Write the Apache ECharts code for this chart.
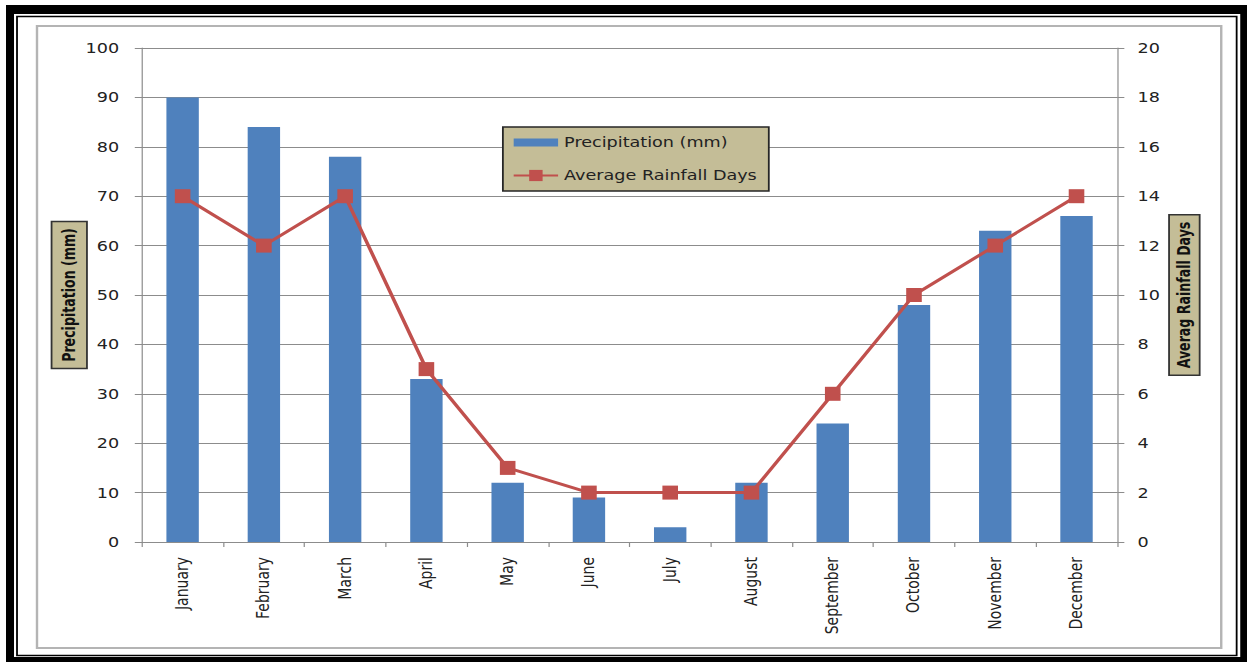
<!DOCTYPE html>
<html>
<head>
<meta charset="utf-8">
<title>Precipitation and Average Rainfall Days</title>
<script src="https://cdn.jsdelivr.net/npm/echarts@6/dist/echarts.min.js"></script>
<style>
  html, body { margin: 0; padding: 0; background: #ffffff; overflow: hidden; }
  /* the chart is laid out at a narrower width and widened horizontally */
  #chart { width: 1039px; height: 662px; transform: scaleX(1.2002); transform-origin: 0 0; }
</style>
</head>
<body>
<div id="chart"></div>
<script>
// Monthly climate data
const months = ['January', 'February', 'March', 'April', 'May', 'June',
                'July', 'August', 'September', 'October', 'November', 'December'];
const precipitationMm = [90, 84, 78, 33, 12, 9, 3, 12, 24, 48, 63, 66];
const rainfallDays = [14, 12, 14, 7, 3, 2, 2, 2, 6, 10, 12, 14];
const precipTicks = { min: 0, max: 100, interval: 10 };
const daysTicks = { min: 0, max: 20, interval: 2 };

const BAR_NAME = 'Precipitation (mm)';
const LINE_NAME = 'Average Rainfall Days';
const LEFT_TITLE = 'Precipitation (mm)';
const RIGHT_TITLE = 'Averag Rainfall Days';

const FONT = '"DejaVu Sans", Verdana, sans-serif';
const COND_FONT = '"DejaVu Sans Condensed", "DejaVu Sans", sans-serif';
const TEXT = '#222222';
const GRID_GRAY = '#8c8c8c';
const TAN = '#C4BD97';
const BAR_BLUE = '#4F81BD';
const LINE_RED = '#C0504D';

const chart = echarts.init(document.getElementById('chart'), null, { renderer: 'svg' });

const titleBox = {
  fontFamily: COND_FONT,
  fontWeight: 'bold',
  fontSize: 14,
  color: '#111111',
  backgroundColor: TAN,
  borderColor: '#333333',
  borderWidth: 1.5,
  lineHeight: 16,
  padding: [6, 6, 6, 6]
};

chart.setOption({
  animation: false,
  backgroundColor: '#ffffff',
  graphic: [
    { type: 'rect', z: -10, shape: { x: 5, y: 5, width: 1034, height: 657 }, style: { fill: '#000000' } },
    { type: 'rect', z: -9, shape: { x: 11.67, y: 14, width: 1021.7, height: 643 }, style: { fill: '#ffffff' } },
    { type: 'rect', z: -8, shape: { x: 14.17, y: 16.5, width: 1016.2, height: 639 },
      style: { fill: 'none', stroke: '#000000', lineWidth: 1.5 } },
    { type: 'rect', z: -7, shape: { x: 30.83, y: 26, width: 986.7, height: 622 },
      style: { fill: 'none', stroke: '#b4b4b4', lineWidth: 2 } }
  ],
  grid: { left: 118.3, right: 108.2, top: 48, bottom: 120, containLabel: false },
  legend: {
    orient: 'vertical',
    left: 419,
    top: 127,
    padding: [8, 10, 8, 8],
    itemGap: 18,
    itemWidth: 37,
    itemHeight: 14,
    backgroundColor: TAN,
    borderColor: '#262626',
    borderWidth: 1.5,
    textStyle: { fontFamily: FONT, fontSize: 14.67, color: TEXT },
    lineStyle: { width: 2 },
    data: [
      { name: BAR_NAME, icon: 'path://M0,0 H37 V8 H0 Z' },
      { name: LINE_NAME }
    ]
  },
  xAxis: {
    type: 'category',
    data: months,
    boundaryGap: true,
    axisLine: { show: true, lineStyle: { color: GRID_GRAY, width: 1 } },
    axisTick: { show: true, interval: 0, length: 5, lineStyle: { color: GRID_GRAY } },
    axisLabel: {
      interval: 0,
      rotate: 90,
      margin: 15,
      fontFamily: FONT,
      fontSize: 14,
      color: TEXT
    },
    splitLine: { show: false }
  },
  yAxis: [
    {
      type: 'value',
      position: 'left',
      min: precipTicks.min,
      max: precipTicks.max,
      interval: precipTicks.interval,
      name: LEFT_TITLE,
      nameLocation: 'middle',
      nameRotate: 90,
      nameGap: 46.6,
      nameMoveOverlap: false,
      nameTextStyle: titleBox,
      axisLine: { show: true, lineStyle: { color: GRID_GRAY, width: 1 } },
      axisTick: { show: true, length: 6, lineStyle: { color: GRID_GRAY } },
      axisLabel: { margin: 19, fontFamily: FONT, fontSize: 14.67, color: TEXT },
      splitLine: { show: true, lineStyle: { color: GRID_GRAY, width: 1 } }
    },
    {
      type: 'value',
      position: 'right',
      min: daysTicks.min,
      max: daysTicks.max,
      interval: daysTicks.interval,
      name: RIGHT_TITLE,
      nameLocation: 'middle',
      nameRotate: 90,
      nameGap: 44,
      nameMoveOverlap: false,
      nameTextStyle: Object.assign({}, titleBox, { padding: [4, 6, 4, 6] }),
      axisLine: { show: true, lineStyle: { color: GRID_GRAY, width: 1 } },
      axisTick: { show: true, length: 6, lineStyle: { color: GRID_GRAY } },
      axisLabel: { margin: 17, fontFamily: FONT, fontSize: 14.67, color: TEXT },
      splitLine: { show: false }
    }
  ],
  series: [
    {
      name: BAR_NAME,
      type: 'bar',
      yAxisIndex: 0,
      data: precipitationMm,
      barWidth: 27,
      itemStyle: { color: BAR_BLUE }
    },
    {
      name: LINE_NAME,
      type: 'line',
      yAxisIndex: 1,
      data: rainfallDays,
      symbol: 'rect',
      symbolSize: [13, 14],
      showAllSymbol: true,
      lineStyle: { color: LINE_RED, width: 3 },
      itemStyle: { color: LINE_RED }
    }
  ]
});
</script>
</body>
</html>
